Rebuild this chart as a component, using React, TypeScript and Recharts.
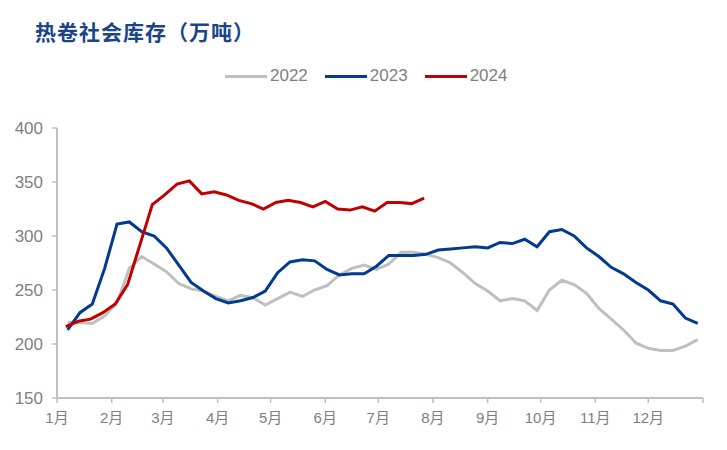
import React from "react";
import { LineChart, Line, XAxis, YAxis } from "recharts";

const weekDays = [
  6, 13, 20, 27, 34, 41, 48, 55, 62, 69, 76, 83, 90, 97, 104, 111, 118, 125,
  132, 139, 146, 153, 160, 167, 174, 181, 188, 195, 202, 209, 216, 223, 230,
  237, 244, 251, 258, 265, 272, 279, 286, 293, 300, 307, 314, 321, 328, 335,
  342, 349, 356, 363,
];
const days2024 = [
  5, 12, 19, 26, 33, 40, 47, 54, 61, 68, 75, 82, 89, 96, 103, 110, 117, 124,
  131, 138, 145, 152, 159, 166, 173, 180, 187, 194, 201, 208,
];

const stock2022 = [
  220, 220, 219, 226, 238, 270, 281, 274, 267, 256, 251, 249, 244, 240, 245,
  243, 236, 242, 248, 244, 250, 254, 264, 270, 273, 269, 274, 285, 285, 283,
  280, 275, 266, 256, 249, 240, 242, 240, 231, 250, 259, 255, 247, 233, 223,
  213, 201, 196, 194, 194, 198, 204,
];
const stock2023 = [
  213, 229, 237, 270, 311, 313, 304, 300, 289, 273, 257, 249, 242, 238, 240,
  243, 249, 266, 276, 278, 277, 269, 264, 265, 265, 272, 282, 282, 282, 283,
  287, 288, 289, 290, 289, 294, 293, 297, 290, 304, 306, 300, 289, 281, 271,
  265, 257, 250, 240, 237, 224, 219,
];
const stock2024 = [
  216, 221, 223, 229, 237, 255, 292, 329, 338, 348, 351, 339, 341, 338, 333,
  330, 325, 331, 333, 331, 327, 332, 325, 324, 327, 323, 331, 331, 330, 335,
];

const monthTicks = [0, 31, 60, 91, 121, 152, 182, 213, 244, 274, 305, 335, 366];
const monthLabels = [
  "1月", "2月", "3月", "4月", "5月", "6月", "7月", "8月", "9月", "10月", "11月", "12月", "",
];
const yTicks = [150, 200, 250, 300, 350, 400];

const toRows = (days: number[], vals: number[]) =>
  vals.map((v, i) => ({ day: days[i], v }));

const series = [
  { name: "2022", color: "#BFBFBF", rows: toRows(weekDays, stock2022) },
  { name: "2023", color: "#003B8E", rows: toRows(weekDays, stock2023) },
  { name: "2024", color: "#C00000", rows: toRows(days2024, stock2024) },
];

const font = '"Liberation Sans", Arial, "Noto Sans CJK SC", sans-serif';
const axisGray = "#BFBFBF";
const textGray = "#7F7F7F";

export default function App() {
  return (
    <div
      style={{
        position: "relative",
        width: 727,
        height: 450,
        margin: -8,
        background: "#fff",
        fontFamily: font,
      }}
    >
      <div
        style={{
          position: "absolute",
          left: 35,
          top: 18,
          fontFamily: '"Noto Sans CJK SC", sans-serif',
          fontWeight: 700,
          fontSize: 21,
          letterSpacing: 1,
          lineHeight: "26px",
          color: "#1A4589",
        }}
      >
        热卷社会库存（万吨）
      </div>

      <div
        style={{
          position: "absolute",
          top: 65,
          left: 225,
          display: "flex",
          alignItems: "center",
          fontSize: 17,
          color: textGray,
        }}
      >
        {series.map((s) => (
          <div
            key={s.name}
            style={{ display: "flex", alignItems: "center", marginRight: 17 }}
          >
            <span
              style={{
                display: "inline-block",
                width: 42,
                height: 3,
                background: s.color,
                marginRight: 3,
              }}
            />
            <span style={{ lineHeight: "22px" }}>{s.name}</span>
          </div>
        ))}
      </div>

      <div style={{ position: "absolute", left: 0, top: 0 }}>
        <LineChart
          width={727}
          height={450}
          margin={{ top: 128, right: 24, bottom: 22, left: 0 }}
        >
          <XAxis
            type="number"
            dataKey="day"
            domain={[0, 366]}
            ticks={monthTicks}
            tickFormatter={(v: number) => monthLabels[monthTicks.indexOf(v)]}
            interval={0}
            height={30}
            axisLine={{ stroke: axisGray, strokeWidth: 2 }}
            tickLine={{ stroke: axisGray, strokeWidth: 1.5 }}
            tickSize={5}
            tickMargin={9}
            tick={{ fill: textGray, fontSize: 15, fontFamily: font }}
          />
          <YAxis
            type="number"
            domain={[150, 400]}
            ticks={yTicks}
            interval={0}
            width={57}
            axisLine={{ stroke: axisGray, strokeWidth: 2 }}
            tickLine={{ stroke: axisGray, strokeWidth: 1.5 }}
            tickSize={5}
            tickMargin={9}
            tick={{ fill: textGray, fontSize: 17, fontFamily: font }}
          />
          {series.map((s) => (
            <Line
              key={s.name}
              data={s.rows}
              dataKey="v"
              name={s.name}
              type="linear"
              stroke={s.color}
              strokeWidth={3}
              dot={false}
              activeDot={false}
              isAnimationActive={false}
            />
          ))}
        </LineChart>
      </div>
    </div>
  );
}
